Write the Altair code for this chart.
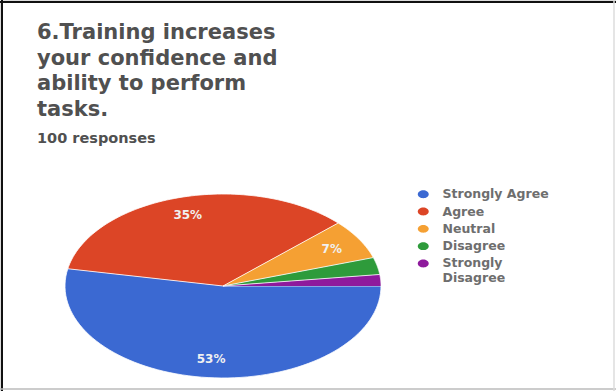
import altair as alt
import pandas as pd

# ---- data ----
categories = ["Strongly Agree", "Agree", "Neutral", "Disagree", "Strongly Disagree"]
values = [53, 35, 7, 3, 2]
colors = ["#3b69d2", "#dc4526", "#f5a033", "#2e9b3b", "#8e1a9c"]
title_lines = ["6.Training increases", "your confidence and", "ability to perform", "tasks."]
subtitle = "100 responses"

df = pd.DataFrame({"cat": categories, "val": values, "idx": list(range(len(categories)))})

N = 80  # arc resolution

color_scale = alt.Scale(domain=categories, range=colors)
xs = alt.Scale(domain=[-1, 1], range=[65, 381])
ys = alt.Scale(domain=[-1, 1], range=[378, 194])

base = (
    alt.Chart(df)
    .transform_window(cum="sum(val)", sort=[alt.SortField("idx")], frame=[None, 0])
    .transform_joinaggregate(total="sum(val)")
    .transform_calculate(
        a0="(datum.cum - datum.val) / datum.total * 2 * PI + PI / 2",
        a1="datum.cum / datum.total * 2 * PI + PI / 2",
    )
)

wedges = (
    base.transform_calculate(k=f"sequence(0, {N + 2})")
    .transform_flatten(["k"])
    .transform_calculate(ang=f"datum.a0 + (datum.k - 1) / {N} * (datum.a1 - datum.a0)")
    .transform_calculate(
        px="datum.k == 0 ? 0 : sin(datum.ang)",
        py="datum.k == 0 ? 0 : cos(datum.ang)",
    )
    .mark_line(stroke="white", strokeWidth=0.8, strokeJoin="round")
    .encode(
        x=alt.X("px:Q", scale=xs, axis=None),
        y=alt.Y("py:Q", scale=ys, axis=None),
        fill=alt.Fill(
            "cat:N",
            scale=color_scale,
            sort=categories,
            legend=alt.Legend(
                title=None,
                orient="none",
                legendX=417,
                legendY=188,
                symbolType="M-1,0 A1,0.72 0 1,0 1,0 A1,0.72 0 1,0 -1,0 Z",
                symbolSize=120,
                symbolStrokeWidth=0,
                labelFont="DejaVu Sans",
                labelFontSize=12.5,
                labelFontWeight="bold",
                labelColor="#6e6e6e",
                rowPadding=4.3,
                labelOffset=13,
                labelLimit=200,
                labelExpr="datum.label == 'Strongly Disagree' ? ['Strongly', 'Disagree'] : datum.label",
            ),
        ),
        detail="cat:N",
        order=alt.Order("k:Q"),
    )
)

labels = (
    base.transform_filter("datum.val >= 5")
    .transform_calculate(
        mid="(datum.a0 + datum.a1) / 2",
        lbl="round(datum.val / datum.total * 100) + '%'",
    )
    .transform_calculate(lx="0.8 * sin(datum.mid)", ly="0.8 * cos(datum.mid)")
    .mark_text(color="#f0f0f0", fontSize=12, fontWeight="bold", font="DejaVu Sans", baseline="middle")
    .encode(
        x=alt.X("lx:Q", scale=xs, axis=None),
        y=alt.Y("ly:Q", scale=ys, axis=None),
        text="lbl:N",
    )
)

border_df = pd.DataFrame({"d": [0]})
top_line = alt.Chart(border_df).mark_rule(color="#111111", strokeWidth=2).encode(
    x=alt.value(0), x2=alt.value(616), y=alt.value(2)
)
left_line = alt.Chart(border_df).mark_rule(color="#111111", strokeWidth=2).encode(
    x=alt.value(2), y=alt.value(0), y2=alt.value(391)
)
bottom_line = alt.Chart(border_df).mark_rule(color="#bbbbbb", strokeWidth=1.5).encode(
    x=alt.value(0), x2=alt.value(616), y=alt.value(389)
)
right_line = alt.Chart(border_df).mark_rule(color="#dddddd", strokeWidth=1.5).encode(
    x=alt.value(614), y=alt.value(0), y2=alt.value(391)
)

chart = (
    alt.layer(wedges, labels, top_line, left_line, bottom_line, right_line)
    .resolve_scale(x="shared", y="shared")
    .properties(
        width=616,
        height=391,
        autosize=alt.AutoSizeParams(type="none"),
        padding=0,
        title=alt.Title(
            title_lines,
            subtitle=subtitle,
            anchor="start",
            frame="group",
            orient="top",
            dx=37,
            dy=150,
            font="DejaVu Sans",
            fontSize=21,
            fontWeight="bold",
            color="#505050",
            lineHeight=25.5,
            subtitleFont="DejaVu Sans",
            subtitleFontSize=14.5,
            subtitleFontWeight="bold",
            subtitleColor="#505050",
            subtitlePadding=12,
        ),
    )
    .configure_view(stroke=None)
    .configure(background="white")
)

chart.save("out.html", embed_options={"renderer": "svg", "actions": False})
